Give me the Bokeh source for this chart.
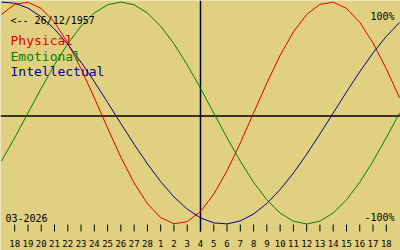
from bokeh.plotting import figure
from bokeh.models import Range1d
from bokeh.core.properties import value
from bokeh.embed import file_html
from bokeh.resources import INLINE

# Days relative to today (04-03-2026)
days = list(range(-15, 16))
physical = [88.8, 97.9, 99.8, 94.2, 81.7, 63.1, 39.8, 13.6, -13.6, -39.8, -63.1,
            -81.7, -94.2, -99.8, -97.9, -88.8, -73.1, -52.0, -27.0, 0.0, 27.0,
            52.0, 73.1, 88.8, 97.9, 99.8, 94.2, 81.7, 63.1, 39.8, 13.6]
emotional = [-43.4, -22.3, 0.0, 22.3, 43.4, 62.4, 78.2, 90.1, 97.5, 100.0, 97.5,
             90.1, 78.2, 62.4, 43.4, 22.3, 0.0, -22.3, -43.4, -62.4, -78.2,
             -90.1, -97.5, -100.0, -97.5, -90.1, -78.2, -62.4, -43.4, -22.3, 0.0]
intellectual = [99.9, 99.0, 94.5, 86.6, 75.6, 61.8, 45.8, 28.2, 9.5, -9.5, -28.2,
                -45.8, -61.8, -75.6, -86.6, -94.5, -99.0, -99.9, -97.2, -91.0,
                -81.5, -69.0, -54.1, -37.2, -18.9, 0.0, 18.9, 37.2, 54.1, 69.0, 81.5]
tick_days = list(range(-14, 15))
tick_labels = ["18", "19", "20", "21", "22", "23", "24", "25", "26", "27", "28",
               "1", "2", "3", "4", "5", "6", "7", "8", "9", "10", "11", "12",
               "13", "14", "15", "16", "17", "18"]
series_names = ["Physical", "Emotional", "Intellectual"]
birth_text = "<-- 26/12/1957"
month_text = "03-2026"

BG = "#E0D080"
RED = "#E00000"
GREEN = "#008000"
BLUE = "#000090"
FONT = value("DejaVu Sans Mono")

p = figure(width=400, height=250, output_backend="svg", toolbar_location=None,
           x_range=Range1d(-15.07, 15.07), y_range=Range1d(-123.87, 101.35),
           min_border=0)
p.extra_x_ranges = {"pxx": Range1d(0, 400)}
p.extra_y_ranges = {"px": Range1d(250, 0)}
p.axis.visible = False
p.grid.visible = False
p.outline_line_color = None
p.background_fill_color = BG
p.border_fill_color = BG

# axes lines
p.segment(x0=[0], y0=[115.5], x1=[400], y1=[115.5], x_range_name="pxx", y_range_name="px",
          line_color="black", line_width=1.5)
p.segment(x0=[0], y0=[0], x1=[0], y1=[231], y_range_name="px",
          line_color="black", line_width=1.5)

# curves
p.line(days, physical, line_color=RED, line_width=1)
p.line(days, emotional, line_color=GREEN, line_width=1)
p.line(days, intellectual, line_color=BLUE, line_width=1)

# ticks
p.segment(x0=tick_days, y0=[224] * len(tick_days), x1=tick_days, y1=[231] * len(tick_days),
          y_range_name="px", line_color="black", line_width=1)
p.text(x=tick_days, y=[242.5] * len(tick_days), text=tick_labels, y_range_name="px",
       text_font=FONT, text_font_size="9px", text_align="center",
       text_baseline="alphabetic", text_color="black")

# texts
p.text(x=[10], y=[20], text=[birth_text], x_range_name="pxx", y_range_name="px",
       text_font=FONT, text_font_size="10px", text_baseline="alphabetic", text_color="black")
p.text(x=[10, 10, 10], y=[40, 55.5, 71], text=series_names, x_range_name="pxx",
       y_range_name="px", text_font=FONT, text_font_size="13px",
       text_baseline="alphabetic", text_color=[RED, GREEN, BLUE])
p.text(x=[394], y=[16], text=["100%"], x_range_name="pxx", y_range_name="px",
       text_font=FONT, text_font_size="10px", text_align="right",
       text_baseline="alphabetic", text_color="black")
p.text(x=[394], y=[217], text=["-100%"], x_range_name="pxx", y_range_name="px",
       text_font=FONT, text_font_size="10px", text_align="right",
       text_baseline="alphabetic", text_color="black")
p.text(x=[5], y=[217], text=[month_text], x_range_name="pxx", y_range_name="px",
       text_font=FONT, text_font_size="10px", text_baseline="alphabetic",
       text_color="black")

open("out.html", "w").write(file_html(p, INLINE))
